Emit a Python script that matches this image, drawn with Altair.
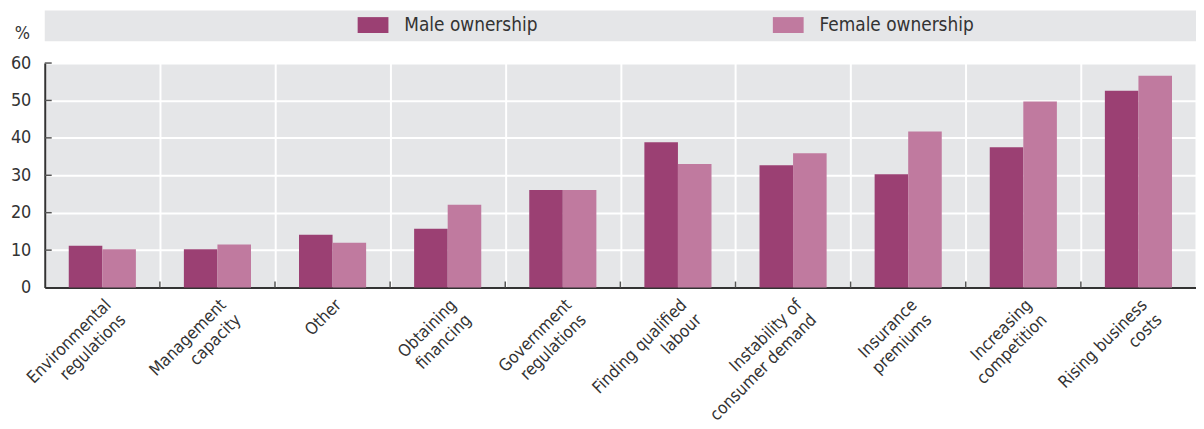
import altair as alt
import pandas as pd

categories = [
    "Environmental|regulations",
    "Management|capacity",
    "Other",
    "Obtaining|financing",
    "Government|regulations",
    "Finding qualified|labour",
    "Instability of|consumer demand",
    "Insurance|premiums",
    "Increasing|competition",
    "Rising business|costs",
]
series = ["Male ownership", "Female ownership"]
male = [11.2, 10.2, 14.1, 15.7, 26.1, 38.8, 32.7, 30.3, 37.5, 52.6]
female = [10.2, 11.5, 12.0, 22.1, 26.1, 33.0, 35.9, 41.7, 49.7, 56.6]
y_ticks = [0, 10, 20, 30, 40, 50, 60]
colors = ["#9B4073", "#C07A9F"]

rows = []
for c, m, f in zip(categories, male, female):
    rows.append({"cat": c, "series": series[0], "value": m})
    rows.append({"cat": c, "series": series[1], "value": f})
df = pd.DataFrame(rows)

W, H = 1159, 226
FONT = "Liberation Sans Narrow, Arial Narrow, DejaVu Sans Condensed, sans-serif"
TXT = "#333333"
BG = "#E5E6E8"

xscale = alt.Scale(domain=categories, paddingInner=0, paddingOuter=0)
yscale = alt.Scale(domain=[0, 60], nice=False)

xaxis = alt.Axis(
    title=None,
    tickBand="extent",
    ticks=False,
    grid=True,
    gridColor="white",
    gridWidth=2,
    domainColor=TXT,
    domainWidth=2,
    labelAngle=-45,
    labelAlign="right",
    labelBaseline="top",
    labelFontSize=17,
    labelFont=FONT,
    labelColor=TXT,
    labelPadding=9,
    labelLineHeight=21,
    labelOverlap=False,
    labelExpr="isValid(datum.value) ? split(datum.value, '|') : ''",
)

yaxis = alt.Axis(
    values=y_ticks,
    title="%",
    titleAngle=0,
    titleX=-23,
    titleY=-30,
    titleAlign="center",
    titleBaseline="middle",
    titleFontSize=18,
    titleFontWeight="normal",
    titleFont=FONT,
    titleColor=TXT,
    labelFontSize=18,
    labelFont=FONT,
    labelColor=TXT,
    labelPadding=14,
    labelOverlap=False,
    ticks=False,
    domainColor=TXT,
    domainWidth=2,
    grid=True,
    gridColor="white",
    gridWidth=2,
)

bars = alt.Chart(df).mark_bar().encode(
    x=alt.X("cat:N", scale=xscale, sort=categories, axis=xaxis),
    xOffset=alt.XOffset(
        "series:N",
        sort=series,
        scale=alt.Scale(domain=series, paddingInner=0, paddingOuter=0.715),
    ),
    y=alt.Y("value:Q", scale=yscale, axis=yaxis),
    color=alt.Color(
        "series:N",
        scale=alt.Scale(domain=series, range=colors),
        legend=alt.Legend(
            orient="none",
            legendX=315,
            legendY=-54,
            direction="horizontal",
            columns=2,
            title=None,
            symbolType="M-1,-0.516H1V0.516H-1Z",
            symbolSize=961,
            symbolStrokeWidth=0,
            symbolOpacity=1,
            labelFontSize=19,
            labelFont=FONT,
            labelColor=TXT,
            labelOffset=16,
            columnPadding=236,
            padding=0,
            labelLimit=300,
        ),
    ),
)

legend_band = alt.Chart(alt.Data(values=[{"a": 1}])).mark_rect(color=BG).encode(
    x=alt.value(0), x2=alt.value(W), y=alt.value(-53), y2=alt.value(-22)
)

ytick_df = pd.DataFrame({"value": y_ticks[1:]})
yticks = alt.Chart(ytick_df).mark_rule(color="#555555", strokeWidth=1.5).encode(
    y=alt.Y("value:Q", scale=yscale, axis=yaxis), x=alt.value(0), x2=alt.value(7)
)

xtick_df = pd.DataFrame({"cat": categories[1:]})
xticks = alt.Chart(xtick_df).mark_rule(color="#555555", strokeWidth=1.5).encode(
    x=alt.X("cat:N", scale=xscale, sort=categories, bandPosition=0, axis=xaxis),
    y=alt.YDatum(0, axis=yaxis),
    y2=alt.Y2Datum(1.6),
)

chart = (
    alt.layer(legend_band, bars, yticks, xticks)
    .properties(
        width=W,
        height=H,
        autosize=alt.AutoSizeParams(type="none"),
        padding={"left": 37, "top": 54, "right": 0, "bottom": 141},
    )
    .configure_view(fill=BG, strokeWidth=0)
)

chart.save("out.html", embed_options={"renderer": "svg", "actions": False})
